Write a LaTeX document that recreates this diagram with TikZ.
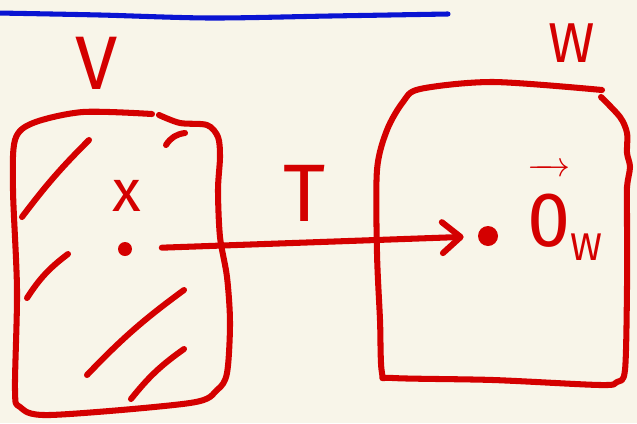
\documentclass[tikz,border=0pt]{standalone}
\usepackage{fontspec}
\setsansfont{Fira Sans}
\usepackage{xcolor}
\usepackage{tikz}
\usetikzlibrary{arrows.meta}
\definecolor{paper}{HTML}{F8F5E9}
\definecolor{pen}{HTML}{D40000}
\definecolor{bluepen}{HTML}{0A14D2}
\tikzset{
  ink/.style={draw=pen, line width=4.3pt, line cap=round, line join=round},
  hatch/.style={ink},
  spacebox/.style={ink},
  penlabel/.style={text=pen, inner sep=0pt, font=\sffamily},
  pendot/.style={circle, fill=pen, inner sep=0pt},
  maparrow/.style={ink, -{Straight Barb[length=13pt,width=22pt,round]}},
}

\begin{document}
\begin{tikzpicture}[x=0.025cm, y=-0.025cm]
    \useasboundingbox[fill=paper] (0,0) rectangle (637,423);
    % rule at the top
    \draw[draw=bluepen, line width=3.6pt, line cap=round]
      plot[smooth] coordinates {(-2,13) (100,15) (210,18) (330,16) (448,14)};
    % domain V
    \draw[spacebox] plot[smooth] coordinates {(152,114) (83,112) (33,123) (15,140) (13,190)
      (17,290) (15,390) (20,407) (50,415) (190,403) (217,390) (227,373) (230,323)
      (227,277) (220,237) (218,190) (220,157) (218,137) (207,125) (180,123) (159,115)};
    \draw[hatch] (22,217) to[bend left=4] (89,140);
    \draw[hatch] (166,145) to[bend left=25] (185,133);
    \draw[hatch] (27,298) to[bend left=10] (68,254);
    \draw[hatch] (87,375) to[bend left=5] (184,290);
    \draw[hatch] (131,399) to[bend left=8] (184,349);
    \node[penlabel, font=\sffamily\fontsize{54}{56}\selectfont] (vlabel) at (97,63) {V};
    \node[penlabel, font=\sffamily\fontsize{42}{44}\selectfont] (xlabel) at (127,196) {x};
    \node[pendot, minimum size=14*0.711pt] (xdot) at (125,249) {};
    % codomain W
    \draw[spacebox] plot[smooth] coordinates {(602,90) (493,82) (420,89) (403,102) (387,130)
      (377,170) (377,253) (380,320) (382,373) (393,378) (493,380) (600,385) (617,382)
      (625,370) (627,287) (627,220) (627,187) (630,167) (627,153) (627,133) (620,117) (601,97)};
    \node[penlabel, font=\sffamily\fontsize{40}{42}\selectfont] (wlabel) at (572,43) {W};
    \node[pendot, minimum size=20*0.711pt] (zerodot) at (488,236) {};
    \node[penlabel, font=\fontsize{55}{57}\selectfont] (zerolabel) at (565,212)
      {$\overrightarrow{\mathsf{0}\rule{0pt}{0.92em}}_{\scriptscriptstyle\mathsf{W}}$};
    % the map
    \draw[maparrow, shorten <=21pt, shorten >=10pt] (xdot) -- (zerodot);
    \node[penlabel, font=\sffamily\fontsize{58}{60}\selectfont] (tlabel) at (305,193) {T};
\end{tikzpicture}
\end{document}
